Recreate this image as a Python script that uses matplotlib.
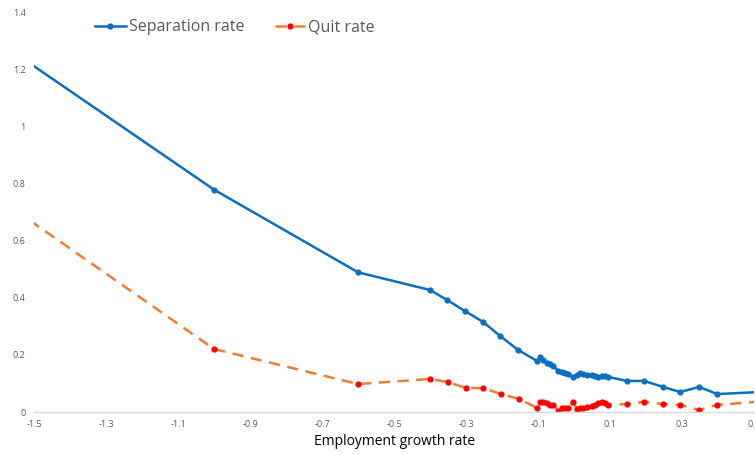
import matplotlib
matplotlib.use('Agg')
import matplotlib.pyplot as plt
import numpy as np

# Separation rate (blue, solid)
sep_x = [-1.6, -1.0, -0.6, -0.4, -0.353, -0.303, -0.253, -0.206, -0.156,
         -0.103, -0.094, -0.086, -0.075, -0.067, -0.058, -0.044, -0.033, -0.025, -0.017,
         -0.003, 0.008, 0.017, 0.025, 0.036, 0.050, 0.058, 0.067, 0.078, 0.086, 0.094,
         0.147, 0.194, 0.247, 0.294, 0.347, 0.397, 0.6]
sep_y = [1.30, 0.78, 0.49, 0.428, 0.393, 0.354, 0.316, 0.267, 0.218,
         0.179, 0.193, 0.182, 0.172, 0.168, 0.161, 0.144, 0.140, 0.137, 0.133,
         0.123, 0.130, 0.137, 0.133, 0.130, 0.130, 0.126, 0.123, 0.126, 0.126, 0.123,
         0.109, 0.109, 0.088, 0.070, 0.088, 0.063, 0.075]

# Quit rate (red markers, orange dashed)
quit_x = [-1.6, -1.0, -0.6, -0.4, -0.35, -0.3, -0.253, -0.203, -0.153,
          -0.103, -0.094, -0.086, -0.075, -0.067, -0.058, -0.044, -0.033, -0.025, -0.017,
          -0.003, 0.008, 0.017, 0.025, 0.036, 0.050, 0.058, 0.067, 0.078, 0.086, 0.094,
          0.147, 0.194, 0.247, 0.294, 0.347, 0.397, 0.6]
quit_y = [0.75, 0.221, 0.098, 0.116, 0.105, 0.084, 0.084, 0.063, 0.046,
          0.014, 0.035, 0.035, 0.032, 0.025, 0.025, 0.004, 0.014, 0.014, 0.014,
          0.035, 0.011, 0.014, 0.014, 0.018, 0.021, 0.025, 0.032, 0.035, 0.032, 0.025,
          0.028, 0.035, 0.028, 0.025, 0.007, 0.025, 0.045]

x_ticks = [-1.5, -1.3, -1.1, -0.9, -0.7, -0.5, -0.3, -0.1, 0.1, 0.3, 0.5]
y_ticks = [0, 0.2, 0.4, 0.6, 0.8, 1.0, 1.2, 1.4]

plt.rcParams['font.family'] = ['Open Sans', 'DejaVu Sans']

fig = plt.figure(figsize=(7.55, 4.55), dpi=100)
ax = fig.add_axes([0.045, 0.0945, 0.954, 0.877])

ax.plot(sep_x, sep_y, color='#0B6FC0', linewidth=1.8, marker='o', markersize=4.5,
        markeredgewidth=0, label='Separation rate')
ax.plot(quit_x, quit_y, color='#ED7D31', linewidth=1.8, linestyle=(0, (4.5, 3)),
        marker='o', markersize=4.5, markerfacecolor='#FF0000', markeredgewidth=0,
        label='Quit rate')

ax.set_xlim(-1.5, 0.5)
ax.set_ylim(0, 1.4)
ax.set_xticks(x_ticks)
ax.set_xticklabels([f'{t:g}' for t in x_ticks])
ax.set_yticks(y_ticks)
ax.set_yticklabels([f'{t:g}' for t in y_ticks])
ax.tick_params(length=0, labelsize=6.5, colors='#595959', pad=6)

for s in ['top', 'right', 'left']:
    ax.spines[s].set_visible(False)
ax.spines['bottom'].set_color('#D9D9D9')
ax.spines['bottom'].set_linewidth(1)

ax.set_xlabel('Employment growth rate', fontsize=10, color='black', labelpad=3)

ax.legend(loc='upper left', bbox_to_anchor=(0.065, 1.02), ncol=2, frameon=False,
          fontsize=11.5, labelcolor='#595959', handlelength=1.9, handletextpad=0.2,
          columnspacing=1.9)

plt.savefig('out.png', dpi=100)
